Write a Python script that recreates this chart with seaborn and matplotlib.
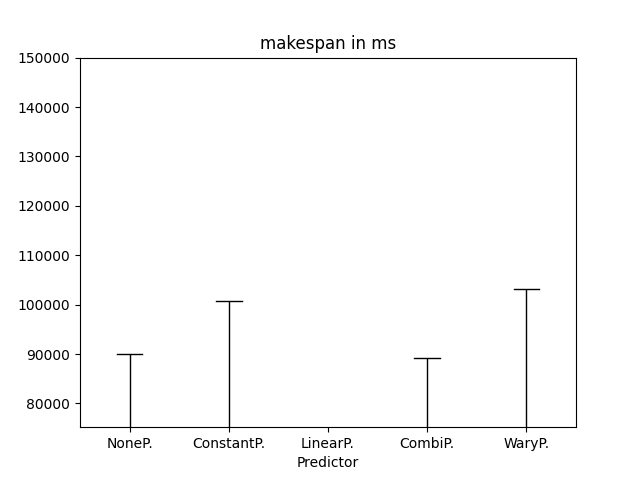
import pandas as pd
import seaborn as sns
import matplotlib
matplotlib.use('Agg')
import matplotlib.pyplot as plt

#----------------------------------------
predictors = ['NoneP.', 'ConstantP.', 'LinearP.', 'CombiP.', 'WaryP.']
nonep = [61000, 63500, 65000, 67000, 90000]
constantp = [62000, 64000, 66500, 68000, 100700]
linearp = [60000, 62500, 64000, 66000, 70000]
combip = [60500, 63000, 65500, 67500, 89200]
waryp = [62500, 65000, 67000, 69000, 103200]
#----------------------------------------

df = pd.DataFrame({
    'Predictor': sum([[p] * 5 for p in predictors], []),
    'makespan': nonep + constantp + linearp + combip + waryp,
})

fig, ax = plt.subplots(figsize=(6.4, 4.8), dpi=100)
sns.boxplot(data=df, x='Predictor', y='makespan', ax=ax, whis=(0, 100),
            width=0.52, color='white', linecolor='black', linewidth=1)
ax.set_ylim(75200, 150000)
ax.set_ylabel('')
ax.set_title('makespan in ms')
fig.savefig('out.png')
